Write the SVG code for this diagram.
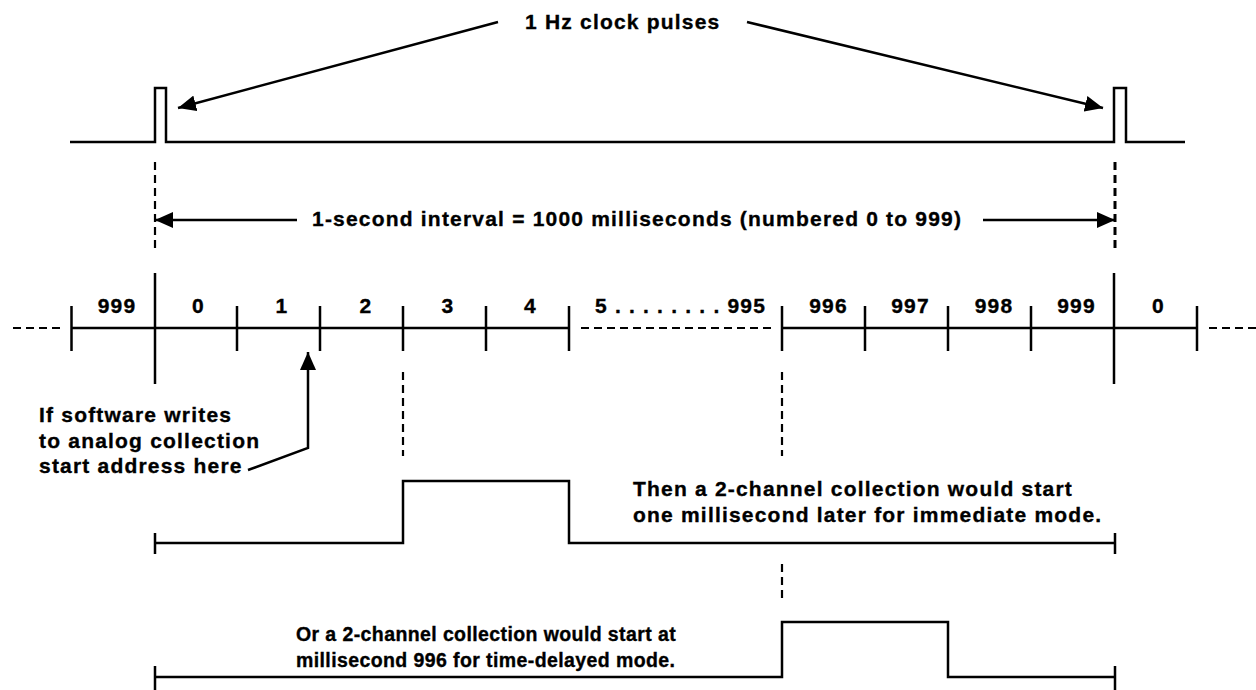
<svg xmlns="http://www.w3.org/2000/svg" width="1256" height="690" viewBox="0 0 1256 690">
  <defs>
    <style>
      .ln { fill: none; stroke: #000; stroke-width: 2.5; stroke-linecap: butt; stroke-linejoin: miter; }
      .dash { fill: none; stroke: #000; stroke-width: 2.2; stroke-dasharray: 8 5; }
      .lbl { font-family: "Liberation Sans", Arial, sans-serif; font-weight: bold; font-size: 21px; letter-spacing: 1.2px; fill: #000; stroke: #000; stroke-width: 0.35; }
      .small { font-size: 19.5px; letter-spacing: 0.4px; }
      .num { text-anchor: middle; }
    </style>
    <marker id="head" viewBox="0 0 18 16" refX="18" refY="8" markerWidth="18" markerHeight="16" markerUnits="userSpaceOnUse" orient="auto">
      <path d="M0,0 L18,8 L0,16 Z" fill="#000"/>
    </marker>
  </defs>
  <rect width="1256" height="690" fill="#fff"/>

  <!-- 1 Hz clock trace with two pulses -->
  <g id="clock">
    <path class="ln" d="M70,142 H155 V88 H166 V142 H1114 V88 H1126 V142 H1185"/>
    <text class="lbl" x="525" y="29">1 Hz clock pulses</text>
  </g>

  <!-- one-second interval -->
  <g id="interval">
    <text class="lbl" x="312" y="226">1-second interval = 1000 milliseconds (numbered 0 to 999)</text>
  </g>

  <!-- millisecond time line -->
  <g id="timeline">
    <line class="ln" x1="71.5" y1="328" x2="569" y2="328"/>
    <line class="ln" x1="782" y1="328" x2="1197" y2="328"/>
    <!-- second boundaries -->
    <line class="ln" x1="155" y1="273" x2="155" y2="384"/>
    <line class="ln" x1="1114" y1="273" x2="1114" y2="384"/>
    <!-- millisecond ticks -->
    <path class="ln" d="M71.5,306 V351 M237,306 V351 M320,306 V351 M403,306 V351 M486,306 V351 M569,306 V351 M782,306 V351 M865,306 V351 M948,306 V351 M1031,306 V351 M1197,306 V351"/>
    <text class="lbl num" x="117" y="313">999</text>
    <text class="lbl num" x="198.5" y="313">0</text>
    <text class="lbl num" x="282" y="313">1</text>
    <text class="lbl num" x="366" y="313">2</text>
    <text class="lbl num" x="448" y="313">3</text>
    <text class="lbl num" x="530.5" y="313">4</text>
    <text class="lbl" x="595" y="313">5 . . . . . . . . 995</text>
    <text class="lbl num" x="828.5" y="313">996</text>
    <text class="lbl num" x="910.5" y="313">997</text>
    <text class="lbl num" x="994" y="313">998</text>
    <text class="lbl num" x="1076.5" y="313">999</text>
    <text class="lbl num" x="1158.5" y="313">0</text>
  </g>

  <!-- software write annotation -->
  <g id="write-note">
    <text class="lbl" x="39" y="422">If software writes</text>
    <text class="lbl" x="39" y="447.5">to analog collection</text>
    <text class="lbl" x="39" y="473">start address here</text>
  </g>

  <!-- immediate mode collection -->
  <g id="immediate">
    <path class="ln" d="M155,543 H403 V481 H569 V543 H1115"/>
    <path class="ln" d="M155,533 V554 M1115,533 V554"/>
    <text class="lbl" x="633" y="496">Then a 2-channel collection would start</text>
    <text class="lbl" x="633" y="522">one millisecond later for immediate mode.</text>
  </g>

  <!-- time-delayed mode collection -->
  <g id="delayed">
    <path class="ln" d="M155,677 H782 V622 H948 V677 H1115"/>
    <path class="ln" d="M155,666 V690 M1115,666 V690"/>
    <text class="lbl small" x="296" y="641">Or a 2-channel collection would start at</text>
    <text class="lbl small" x="296" y="667">millisecond 996 for time-delayed mode.</text>
  </g>

  <!-- connectors, arrows and guide lines -->
  <g id="connectors">
    <line class="ln" x1="498" y1="22" x2="178" y2="108" marker-end="url(#head)"/>
    <line class="ln" x1="747" y1="22" x2="1103" y2="108" marker-end="url(#head)"/>
    <line class="ln" x1="297" y1="220" x2="155" y2="220" marker-end="url(#head)"/>
    <line class="ln" x1="983" y1="220" x2="1115" y2="220" marker-end="url(#head)"/>
    <polyline class="ln" points="248,470 308,448 308,352" marker-end="url(#head)"/>
    <line class="dash" x1="155" y1="162" x2="155" y2="250"/>
    <line class="dash" x1="1115" y1="162" x2="1115" y2="250" style="stroke-width:3"/>
    <line class="dash" x1="13" y1="328" x2="62" y2="328"/>
    <line class="dash" x1="581" y1="328" x2="772" y2="328"/>
    <line class="dash" x1="1209" y1="328" x2="1256" y2="328"/>
    <line class="dash" x1="403" y1="372" x2="403" y2="456"/>
    <line class="dash" x1="782" y1="372" x2="782" y2="456"/>
    <line class="dash" x1="782" y1="564" x2="782" y2="602"/>
  </g>
</svg>
